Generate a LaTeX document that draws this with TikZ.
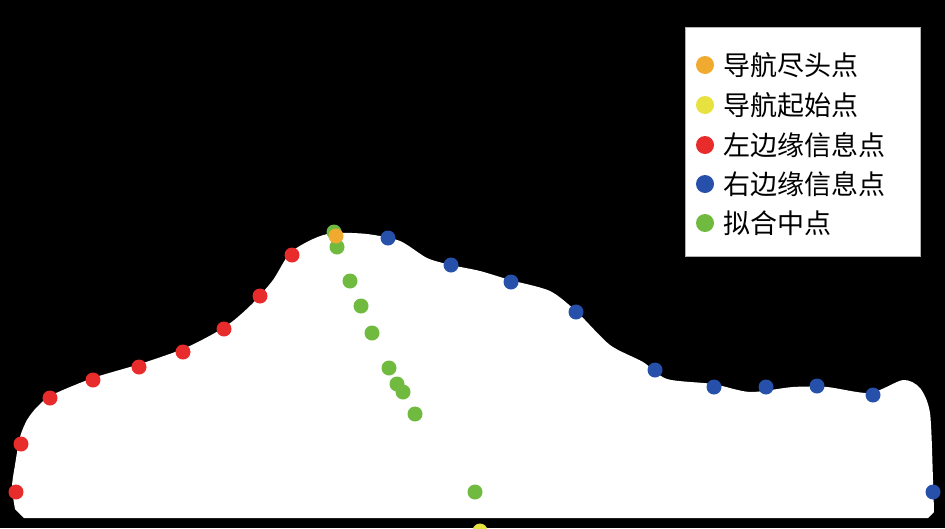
\documentclass[tikz,border=0pt]{standalone}
\usepackage{fontspec}
\newfontfamily\cjk{Noto Sans CJK SC}
\usepackage{tikz}
\usetikzlibrary{positioning}

\definecolor{endcol}{RGB}{240,170,48}
\definecolor{startcol}{RGB}{232,226,64}
\definecolor{leftcol}{RGB}{232,44,44}
\definecolor{rightcol}{RGB}{38,80,170}
\definecolor{midcol}{RGB}{112,186,64}

\begin{document}
\begin{tikzpicture}[x=1pt,y=-1pt]
        \tikzstyle{dot}=[circle,inner sep=0pt,minimum size=15pt,draw=none]
        \tikzstyle{keydot}=[circle,inner sep=0pt,minimum size=18pt,draw=none]
        \tikzstyle{keytext}=[anchor=west,inner sep=0pt,font=\cjk\fontsize{27}{30}\selectfont]

        \useasboundingbox (0,0) rectangle (945,528);
        \clip (0,0) rectangle (945,528);
        \fill[black] (0,0) rectangle (945,528);

        % road region
        \fill[white] (24,518) -- plot[smooth,tension=0.45] coordinates {
            (15,509) (12,487) (15,465) (20,437) (27,420) (37,407)
            (52,395) (93,378) (140,364) (183,349) (213,334) (233,321)
            (253,303) (273,280) (290,253) (313,239) (333,233) (367,234)
            (400,241) (427,258) (451,265) (480,271) (510,280) (550,291)
            (577,312) (610,345) (643,362) (667,379) (713,384) (750,392)
            (793,387) (827,387) (870,393) (903,380) (920,388) (930,413)
            (933,480) (934,512)} -- (928,518) -- cycle;

        % left edge points
        \node[dot,fill=leftcol] (L1) at (16,492) {};
        \node[dot,fill=leftcol] (L2) at (21,444) {};
        \node[dot,fill=leftcol] (L3) at (50,398) {};
        \node[dot,fill=leftcol] (L4) at (93,380) {};
        \node[dot,fill=leftcol] (L5) at (139,367) {};
        \node[dot,fill=leftcol] (L6) at (183,352) {};
        \node[dot,fill=leftcol] (L7) at (224,329) {};
        \node[dot,fill=leftcol] (L8) at (260,296) {};
        \node[dot,fill=leftcol] (L9) at (292,255) {};

        % right edge points
        \node[dot,fill=rightcol] (R1) at (388,238) {};
        \node[dot,fill=rightcol] (R2) at (451,265) {};
        \node[dot,fill=rightcol] (R3) at (511,282) {};
        \node[dot,fill=rightcol] (R4) at (576,312) {};
        \node[dot,fill=rightcol] (R5) at (655,370) {};
        \node[dot,fill=rightcol] (R6) at (714,387) {};
        \node[dot,fill=rightcol] (R7) at (766,387) {};
        \node[dot,fill=rightcol] (R8) at (817,386) {};
        \node[dot,fill=rightcol] (R9) at (873,395) {};
        \node[dot,fill=rightcol] (R10) at (933,492) {};

        % fitted mid points
        \node[dot,fill=midcol] (M0) at (334,232) {};
        \node[dot,fill=midcol] (M1) at (337,247) {};
        \node[dot,fill=midcol] (M2) at (350,281) {};
        \node[dot,fill=midcol] (M3) at (361,306) {};
        \node[dot,fill=midcol] (M4) at (372,333) {};
        \node[dot,fill=midcol] (M5) at (389,368) {};
        \node[dot,fill=midcol] (M6) at (397,384) {};
        \node[dot,fill=midcol] (M7) at (403,392) {};
        \node[dot,fill=midcol] (M8) at (415,414) {};
        \node[dot,fill=midcol] (M9) at (475,492) {};

        % start / end
        \node[dot,fill=endcol] (E) at (336,236) {};
        \node[dot,fill=startcol] (S) at (480,531) {};

        % legend
        \node[draw=gray!60,fill=white,line width=0.8pt,anchor=north west,
              minimum width=235pt,minimum height=229pt] (key) at (685,27) {};
        \node[keydot,fill=endcol] (kE) at (705,65) {};
        \node[keydot,fill=startcol] (kS) at (705,105) {};
        \node[keydot,fill=leftcol] (kL) at (705,145) {};
        \node[keydot,fill=rightcol] (kR) at (705,184) {};
        \node[keydot,fill=midcol] (kM) at (705,223) {};
        \node[keytext] (tE) at (723,65) {导航尽头点};
        \node[keytext] (tS) at (723,105) {导航起始点};
        \node[keytext] (tL) at (723,145) {左边缘信息点};
        \node[keytext] (tR) at (723,184) {右边缘信息点};
        \node[keytext] (tM) at (723,223) {拟合中点};
\end{tikzpicture}
\end{document}
